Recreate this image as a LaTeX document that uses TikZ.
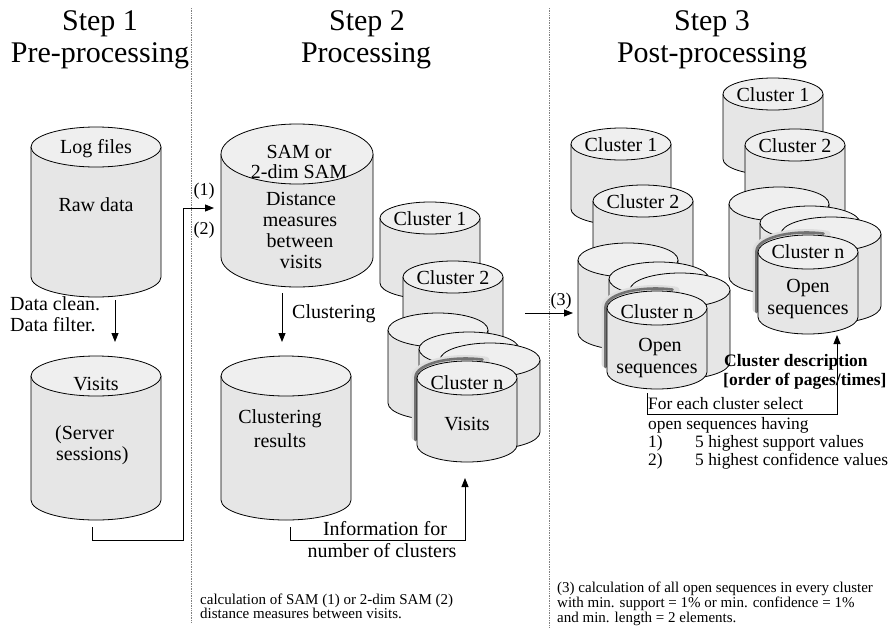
\documentclass[tikz,border=0pt]{standalone}
\usepackage{fontspec}
\setmainfont{Liberation Serif}
\usetikzlibrary{arrows.meta,calc}
\definecolor{cylbody}{RGB}{230,230,230}
\definecolor{cyltop}{RGB}{239,239,239}
\tikzset{
  cylline/.style={draw=black,line width=0.8pt},
  cylframe/.style={draw=none,rectangle,inner sep=0pt,outer sep=0pt},
  conn/.style={line width=0.9pt,-{Triangle[length=9pt,width=7pt]}},
  sepline/.style={gray,densely dotted,line width=0.7pt},
  ttl/.style={font=\fontsize{30}{32}\selectfont,inner sep=0pt,anchor=base},
  bt/.style={font=\fontsize{20}{21}\selectfont,inner sep=0pt,anchor=base},
  bl/.style={bt,anchor=base west},
  mt/.style={font=\fontsize{17.4}{19}\selectfont,inner sep=0pt,anchor=base west},
  bd/.style={font=\fontsize{17.5}{19}\selectfont\bfseries,inner sep=0pt,anchor=base west},
  st/.style={font=\fontsize{15}{15}\selectfont,inner sep=0pt,anchor=base west},
  lab/.style={font=\fontsize{18}{19}\selectfont,inner sep=0pt,anchor=base},
}
% name, cx, cy(top centre), rx, ry, h   (pixel units, y downwards)
\newcommand\cyl[6]{%
  \fill[cylbody] ({(#2)-(#4)},{-(#3)}) -- ({(#2)-(#4)},{-(#3)-(#6)}) arc[start angle=180,end angle=360,x radius={(#4)*1pt},y radius={(#5)*1pt}] -- ({(#2)+(#4)},{-(#3)}) -- cycle;
  \draw[cylline] ({(#2)-(#4)},{-(#3)}) -- ({(#2)-(#4)},{-(#3)-(#6)}) arc[start angle=180,end angle=360,x radius={(#4)*1pt},y radius={(#5)*1pt}] -- ({(#2)+(#4)},{-(#3)});
  \filldraw[cylline,fill=cyltop] ({#2},{-(#3)}) ellipse[x radius={(#4)*1pt},y radius={(#5)*1pt}];
  \node[cylframe,minimum width={2*(#4)*1pt},minimum height={(#6)*1pt+2*(#5)*1pt}] (#1) at ({#2},{-(#3)-(#6)/2}) {};
}
% cx, cy, rx, ry, h
\newcommand\cylshadow[5]{%
  \draw[line width=7pt,black!13,line cap=round] ({(#1)-(#3)-2},{-(#2)-(#5)+8}) -- ({(#1)-(#3)-2},{-(#2)+1}) arc[start angle=180,end angle=65,x radius={(#3)*1pt},y radius={(#4)*1pt+1.5pt}];
  \draw[line width=2.6pt,black!55,line cap=round] ({(#1)-(#3)-1.5},{-(#2)-(#5)+5}) -- ({(#1)-(#3)-1.5},{-(#2)+1}) arc[start angle=180,end angle=70,x radius={(#3)*1pt},y radius={(#4)*1pt+1.5pt}];
}
% prefix, front cx, front cy, front h, c1 x, c1 y, c2 x, c2 y
\newcommand\clstack[8]{%
  \cyl{#1one}{#5}{#6}{50}{16}{65}
  \cyl{#1two}{#7}{#8}{50}{16}{65}
  \cyl{#1a}{(#2)-29}{(#3)-48}{50}{17}{73}
  \cyl{#1b}{(#2)+2}{(#3)-29}{50}{17}{66}
  \cyl{#1c}{(#2)+23}{(#3)-18}{50}{17}{72}
  \cylshadow{#2}{#3}{50}{17}{#4}
  \cyl{#1n}{#2}{#3}{50}{17}{#4}
}
\begin{document}
\begin{tikzpicture}[x=1pt,y=1pt]
\path[use as bounding box] (0,0) rectangle (890,-629);
\fill[white] (0,0) rectangle (890,-629);

% separators
\draw[sepline] (191,-8) -- (191,-622);
\draw[sepline] (549,-8) -- (549,-627);

% titles
\node[ttl] (t1a) at (100,-30) {Step 1};
\node[ttl] (t1b) at (100,-62) {Pre-processing};
\node[ttl] (t2a) at (367,-30) {Step 2};
\node[ttl] (t2b) at (366,-62) {Processing};
\node[ttl] (t3a) at (712,-30) {Step 3};
\node[ttl] (t3b) at (712,-62) {Post-processing};

% Step 1
\cyl{logf}{96}{147}{65}{20}{130}
\node[bt] (logft) at (96,-153) {Log files};
\node[bt] (logfb) at (96,-211) {Raw data};
\cyl{vis}{96}{376}{65}{20}{124}
\node[bt] (vist) at (96,-390) {Visits};
\node[bl] (visb1) at (55,-439) {(Server};
\node[bl] (visb2) at (56,-460) {sessions)};

\node[bl] (dc1) at (10,-310) {Data clean.};
\node[bl] (dc2) at (10,-331) {Data filter.};
\draw[conn] ([shift={(19,-3)}]logf.south) -- ([shift={(19,14)}]vis.north);

% Step 2
\cyl{sam}{297}{154}{76}{30}{103}
\node[bt] (sam1) at (299,-158) {SAM or};
\node[bt] (sam2) at (299,-178) {2-dim SAM};
\node[bt] (sam3) at (301,-205) {Distance};
\node[bt] (sam4) at (300,-226) {measures};
\node[bt] (sam5) at (300,-247) {between};
\node[bt] (sam6) at (301,-268) {visits};

\draw[conn] ([shift={(-4,-7)}]vis.south) -- ++(0,-13) -| ([shift={(-38,-2.5)}]sam.west) -- ([shift={(-7,-2.5)}]sam.west);
\node[lab] (l1) at (204,-195) {(1)};
\node[lab] (l2) at (204,-234) {(2)};

\cyl{clres}{286}{376}{65}{20}{124}
\node[bt] (clres1) at (280,-423) {Clustering};
\node[bt] (clres2) at (280,-447) {results};
\draw[conn] ([shift={(-15,-6)}]sam.south) -- ([shift={(-4,14)}]clres.north);
\node[bl] (clustl) at (292,-318) {Clustering};

\clstack{sB}{467}{378}{67}{430}{218}{453}{277}
\node[bt] (sBone1) at (430,-225) {Cluster 1};
\node[bt] (sBtwo1) at (453,-284) {Cluster 2};
\node[bt] (sBn1) at (467,-389) {Cluster n};
\node[bt] (sBn2) at (467,-430) {Visits};

\draw[conn] ([shift={(4,-7)}]clres.south) -- ++(0,-13) -| ([shift={(-2,-16)}]sBn.south);
\node[bt] (inf1) at (385,-535) {Information for};
\node[bt] (inf2) at (382,-557) {number of clusters};

\node[st] (fn1a) at (200,-604) {calculation of SAM (1) or 2-dim SAM (2)};
\node[st] (fn1b) at (200,-618) {distance measures between visits.};

% Step 3
\clstack{sL}{657}{308}{64}{621}{144}{643}{201}
\node[bt] (sLone1) at (621,-151) {Cluster 1};
\node[bt] (sLtwo1) at (643,-208) {Cluster 2};
\node[bt] (sLn1) at (657,-318) {Cluster n};
\node[bt] (sLn2) at (660,-351) {Open};
\node[bt] (sLn3) at (657,-373) {sequences};

\clstack{sR}{808}{252}{65}{773}{94}{795}{145}
\node[bt] (sRone1) at (773,-101) {Cluster 1};
\node[bt] (sRtwo1) at (795,-152) {Cluster 2};
\node[bt] (sRn1) at (808,-258) {Cluster n};
\node[bt] (sRn2) at (808,-292) {Open};
\node[bt] (sRn3) at (808,-314) {sequences};

\coordinate (a3s) at (525,-313);
\draw[conn] (a3s) -- ([shift={(-5,-16.5)}]sLa.west);
\node[lab] (l3) at (561,-305) {(3)};

\draw[conn] ([shift={(-10,-4)}]sLn.south) -- ++(0,-21) -| ([shift={(29,-1)}]sRn.south);
\node[bd] (cd1) at (724,-366) {Cluster description};
\node[bd] (cd2) at (723,-385) {[order of pages/times]};
\node[mt] (fe1) at (648,-409) {For each cluster select};
\node[mt] (fe2) at (648,-429) {open sequences having};
\node[mt] (fe3) at (648,-447) {\makebox[47pt][l]{1)}5 highest support values};
\node[mt] (fe4) at (648,-465) {\makebox[47pt][l]{2)}5 highest confidence values};

\node[st] (fn3a) at (557,-592) {(3) calculation of all open sequences in every cluster};
\node[st] (fn3b) at (557,-607) {with min. support = 1\% or min. confidence = 1\%};
\node[st] (fn3c) at (557,-622) {and min. length = 2 elements.};
\end{tikzpicture}
\end{document}
